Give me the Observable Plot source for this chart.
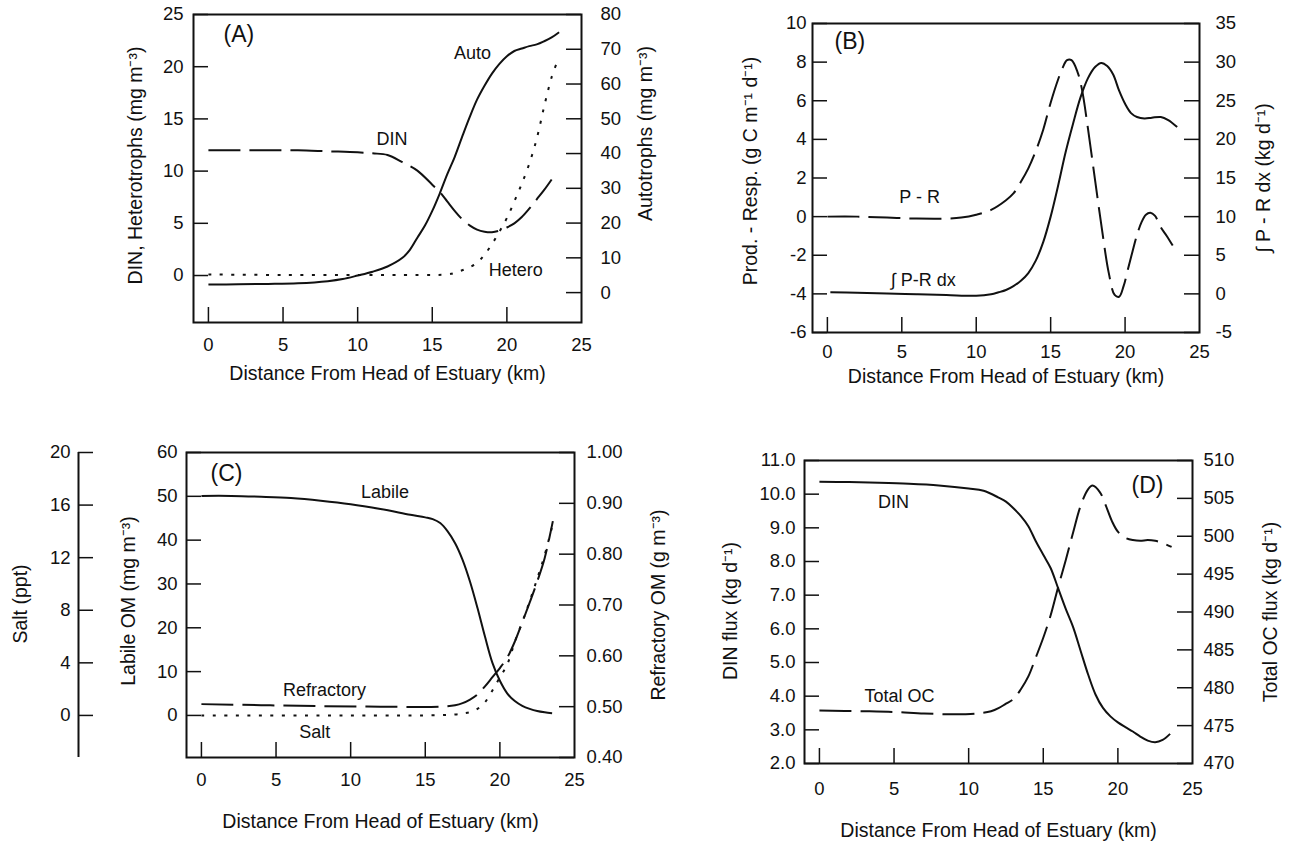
<!DOCTYPE html>
<html><head><meta charset="utf-8">
<script src="https://cdn.jsdelivr.net/npm/d3@7"></script>
<script src="https://cdn.jsdelivr.net/npm/@observablehq/plot@0.6"></script>
<style>
html,body{margin:0;padding:0;background:#fff;}
#chart{position:relative;width:1291px;height:843px;overflow:hidden;}
#chart svg{position:absolute;overflow:visible;}
</style></head><body><div id="chart"></div>
<script>
// ---------- shared x axis ----------
const X_DOMAIN = [-1, 25];
const X_LABELS = [0, 5, 10, 15, 20, 25];
const X_TICKS = [0, 5, 10, 15, 20];
const X_TITLE = "Distance From Head of Estuary (km)";

// ---------- Panel A ----------
const aDinKm = [0, 2, 4, 6, 8, 10, 11, 12, 13, 14, 15, 15.5, 16, 16.5, 17, 17.5, 18, 18.5, 19, 19.5, 20, 20.5, 21, 21.5, 22, 22.5, 23];
const aDin   = [12.0, 12.0, 12.0, 12.0, 11.9, 11.8, 11.7, 11.55, 10.85, 10.05, 8.7, 8.0, 7.1, 6.2, 5.4, 4.8, 4.4, 4.2, 4.15, 4.3, 4.6, 5.0, 5.6, 6.4, 7.3, 8.2, 9.2];
const aHetKm = [0, 5, 10, 14, 16, 16.5, 17, 17.5, 18, 18.5, 19, 19.5, 20, 20.5, 21, 21.5, 22, 22.5, 23, 23.3];
const aHet   = [0.1, 0.05, 0.05, 0.05, 0.1, 0.25, 0.5, 0.8, 1.2, 2.0, 3.0, 4.2, 5.5, 7.1, 8.8, 10.7, 13.1, 16.2, 19.0, 20.2];
const aAutoKm = [0, 2, 4, 6, 8, 9, 10, 11, 12, 13, 13.5, 14, 14.5, 15, 15.5, 16, 16.5, 17, 17.5, 18, 18.5, 19, 19.5, 20, 20.5, 21, 21.5, 22, 22.5, 23, 23.5];
const aAuto   = [2.3, 2.4, 2.5, 2.7, 3.3, 3.9, 4.9, 6.0, 7.5, 10.0, 12.3, 15.8, 19.2, 23.5, 28.5, 34.0, 39.0, 44.8, 50.4, 55.5, 59.5, 63.0, 65.8, 68.0, 69.5, 70.2, 70.9, 71.4, 72.3, 73.4, 74.9];
const aLeftTicks = [0, 5, 10, 15, 20, 25];
const aRightTicks = [0, 10, 20, 30, 40, 50, 60, 70, 80];
const aNotes = [{x: 17.7, y: 21.3, t: "Auto"}, {x: 12.3, y: 13.1, t: "DIN"}, {x: 20.6, y: 0.5, t: "Hetero"}];

// ---------- Panel B ----------
const bPrKm = [0, 2, 4, 6, 8, 9, 10, 11, 12, 12.5, 13, 13.5, 14, 14.5, 15, 15.5, 15.8, 16.1, 16.4, 16.8, 17.1, 17.5, 18, 18.5, 18.9, 19.3, 19.6, 19.9, 20.2, 20.5, 20.8, 21.1, 21.4, 21.7, 22, 22.4, 22.8, 23.2];
const bPr   = [0, 0, -0.05, -0.1, -0.1, -0.05, 0.1, 0.35, 0.85, 1.2, 1.8, 2.5, 3.4, 4.5, 5.9, 7.1, 7.7, 8.1, 8.1, 7.5, 6.6, 4.6, 1.8, -0.95, -2.9, -4.05, -4.15, -3.6, -2.7, -1.8, -0.95, -0.3, 0.1, 0.2, 0.05, -0.55, -1.0, -1.5];
const bIntKm = [0.2, 2, 4, 6, 8, 10, 11, 11.5, 12, 12.5, 13, 13.5, 14, 14.5, 15, 15.5, 16, 16.5, 17, 17.5, 18, 18.4, 18.8, 19.2, 19.6, 20, 20.4, 20.8, 21.3, 21.8, 22.4, 22.9, 23.5];
const bInt   = [0.2, 0.15, 0.05, -0.05, -0.15, -0.25, -0.05, 0.2, 0.5, 1.0, 1.7, 2.7, 4.3, 6.7, 10.0, 14.0, 18.3, 22.0, 25.4, 27.9, 29.4, 29.9, 29.5, 28.4, 26.3, 24.6, 23.4, 22.9, 22.7, 22.8, 22.9, 22.5, 21.6];
const bLeftTicks = [-6, -4, -2, 0, 2, 4, 6, 8, 10];
const bRightTicks = [-5, 0, 5, 10, 15, 20, 25, 30, 35];
const bNotes = [{x: 6.2, y: 1.0, t: "P - R"}, {x: 6.45, y: -3.3, t: "\u222B P-R dx"}];

// ---------- Panel C ----------
const cLabKm = [0, 2, 4, 6, 8, 10, 12, 14, 15, 15.5, 16, 16.5, 17, 17.5, 18, 18.5, 19, 19.5, 20, 20.5, 21, 21.5, 22, 22.5, 23, 23.5];
const cLab   = [50.1, 50.1, 49.9, 49.6, 49.0, 48.2, 47.1, 45.8, 45.2, 44.8, 43.9, 42.0, 39.3, 35.5, 30.5, 24.5, 18.0, 12.0, 7.9, 5.0, 3.3, 2.2, 1.5, 1.0, 0.7, 0.5];
const cRefKm = [0, 4, 8, 12, 16, 17, 17.5, 18, 18.5, 19, 19.5, 20, 20.5, 21, 21.5, 22, 22.5, 23, 23.55];
const cRef   = [0.505, 0.503, 0.501, 0.50, 0.50, 0.503, 0.507, 0.514, 0.524, 0.540, 0.558, 0.576, 0.597, 0.628, 0.666, 0.705, 0.746, 0.792, 0.865];
const cSaltKm = [0, 10, 16, 17, 17.5, 18, 18.5, 19, 19.5, 20, 20.5, 21, 21.5, 22, 22.5, 23, 23.6];
const cSalt   = [0, 0, 0.02, 0.08, 0.15, 0.25, 0.5, 1.0, 1.9, 2.9, 3.9, 5.6, 7.1, 8.7, 10.4, 12.2, 14.8];
const cLeftTicks = [0, 10, 20, 30, 40, 50, 60];
const cRightTicks = [0.4, 0.5, 0.6, 0.7, 0.8, 0.9, 1.0];
const cSaltTicks = [0, 4, 8, 12, 16, 20];
const cNotes = [{x: 12.3, y: 50.9, t: "Labile"}, {x: 8.25, y: 5.7, t: "Refractory"}, {x: 7.6, y: -3.8, t: "Salt"}];

// ---------- Panel D ----------
const dDinKm = [0, 2, 4, 6, 8, 10, 11, 12, 12.5, 13, 13.5, 14, 14.5, 15, 15.5, 16, 16.5, 17, 17.5, 18, 18.5, 19, 19.5, 20, 20.5, 21, 21.5, 22, 22.5, 23, 23.5];
const dDin   = [10.37, 10.36, 10.34, 10.31, 10.26, 10.17, 10.1, 9.9, 9.78, 9.58, 9.35, 9.05, 8.6, 8.2, 7.8, 7.2, 6.6, 6.05, 5.35, 4.65, 4.05, 3.65, 3.4, 3.22, 3.08, 2.95, 2.8, 2.68, 2.63, 2.7, 2.88];
const dOcKm = [0, 3, 5, 7, 9, 10.5, 11.5, 12, 12.5, 13, 13.5, 14, 14.5, 15, 15.5, 16, 16.5, 17, 17.5, 18, 18.3, 18.8, 19.2, 19.6, 20, 20.5, 21, 21.5, 22, 22.5, 23, 23.6];
const dOc   = [477.0, 476.9, 476.8, 476.6, 476.5, 476.6, 476.9, 477.3, 477.9, 478.5, 479.8, 481.5, 484.0, 486.6, 489.6, 493.3, 496.8, 500.5, 504.0, 506.2, 506.7, 505.8, 504.0, 502.0, 500.6, 499.8, 499.5, 499.4, 499.5, 499.4, 499.1, 498.6];
const dLeftTicks = [2, 3, 4, 5, 6, 7, 8, 9, 10, 11];
const dRightTicks = [470, 475, 480, 485, 490, 495, 500, 505, 510];
const dNotes = [{x: 4.97, y: 9.76, t: "DIN"}, {x: 5.37, y: 4.0, t: "Total OC"}];

// ---------- drawing helpers ----------
const FONT = '"Liberation Sans", Arial, Helvetica, sans-serif';
const INK = "#111";
const TICK_FS = 18.5, TITLE_FS = 19.5, NOTE_FS = 18, LETTER_FS = 23;
const TICK_LEN = 15;
const DASH = "32,9", DOT = "3,8.5";
const pts = (xs, ys) => xs.map((x, i) => ({x, y: ys[i]}));
const intFmt = d => String(d);

// each layer: marks is a function of a context giving tick lengths in data units
function layer(box, yDomain, makeMarks) {
  const ctx = {
    box, yDomain,
    xLen: TICK_LEN * (X_DOMAIN[1] - X_DOMAIN[0]) / (box.fx1 - box.fx0),
    yLen: TICK_LEN * (yDomain[1] - yDomain[0]) / (box.fy1 - box.fy0)
  };
  const svg = Plot.plot({
    width: box.w, height: box.h,
    marginLeft: box.fx0 - box.left, marginRight: box.left + box.w - box.fx1,
    marginTop: box.fy0 - box.top, marginBottom: box.top + box.h - box.fy1,
    x: {domain: X_DOMAIN, axis: null},
    y: {domain: yDomain, axis: null},
    style: {fontFamily: FONT, fontSize: TICK_FS + "px", color: INK, background: "transparent", overflow: "visible"},
    marks: makeMarks(ctx)
  });
  svg.style.left = box.left + "px";
  svg.style.top = box.top + "px";
  document.getElementById("chart").appendChild(svg);
}
function xAxis(ctx, pad, titleDy) {
  const y0 = ctx.yDomain[0];
  return [
    Plot.ruleX(X_TICKS, {x: d => d, y1: y0, y2: y0 + ctx.yLen, stroke: INK, strokeWidth: 1.5}),
    Plot.axisX(X_LABELS, {anchor: "bottom", tickSize: 0, tickPadding: pad, label: null, tickFormat: intFmt, fontSize: TICK_FS}),
    Plot.text([X_TITLE], {text: d => d, frameAnchor: "bottom", dy: titleDy, textAnchor: "middle", lineAnchor: "middle", fontSize: TITLE_FS, fill: INK})
  ];
}
function yAxis(ctx, ticks, anchor, pad, fmt, shift = 0) {
  const x1 = anchor === "left" ? X_DOMAIN[0] : X_DOMAIN[1] - ctx.xLen;
  const x2 = anchor === "left" ? X_DOMAIN[0] + ctx.xLen : X_DOMAIN[1];
  return [
    Plot.ruleY(ticks, {y: d => d, x1, x2, dx: shift, stroke: INK, strokeWidth: 1.5}),
    Plot.axisY(ticks, {anchor, tickSize: 0, dx: shift, tickPadding: pad, label: null, tickFormat: fmt, fontSize: TICK_FS})
  ];
}
function yTitle(t, anchor, dx, dy) {
  return Plot.text([t], {text: d => d, frameAnchor: anchor, dx, dy, rotate: -90, textAnchor: "middle", lineAnchor: "middle", fontSize: TITLE_FS, fill: INK});
}
function notes(arr) {
  return Plot.text(arr, {x: "x", y: "y", text: "t", textAnchor: "middle", lineAnchor: "middle", fontSize: NOTE_FS, fill: INK});
}
function letter(t, anchor, dx, dy, textAnchor) {
  return Plot.text([t], {text: d => d, frameAnchor: anchor, dx, dy, textAnchor, lineAnchor: "middle", fontSize: LETTER_FS, fill: INK});
}
function line(data, dash) {
  return Plot.line(data, {x: "x", y: "y", curve: "catmull-rom", stroke: INK, strokeWidth: 2, strokeDasharray: dash, strokeLinecap: "butt"});
}

// ---------- Panel A ----------
const boxA = {left: 0, top: 0, w: 680, h: 400, fx0: 193, fx1: 581, fy0: 14, fy1: 322};
layer(boxA, [-4.5, 25], ctx => [
  Plot.frame({stroke: INK, strokeWidth: 2}),
  ...xAxis(ctx, 15, 51),
  ...yAxis(ctx, aLeftTicks, "left", 10, intFmt),
  yTitle("DIN, Heterotrophs (mg m\u207B\u00B3)", "left", -58, -3),
  line(pts(aDinKm, aDin), DASH),
  line(pts(aHetKm, aHet), DOT),
  notes(aNotes),
  letter("(A)", "top-left", 30, 20, "start")
]);
layer(boxA, [-8.6, 80], ctx => [
  ...yAxis(ctx, aRightTicks, "right", 19, intFmt),
  yTitle("Autotrophs (mg m\u207B\u00B3)", "right", 64, -35),
  line(pts(aAutoKm, aAuto), null)
]);

// ---------- Panel B ----------
const boxB = {left: 700, top: 0, w: 591, h: 400, fx0: 812, fx1: 1199, fy0: 23, fy1: 332};
layer(boxB, [-6, 10], ctx => [
  Plot.frame({stroke: INK, strokeWidth: 2}),
  ...xAxis(ctx, 12, 44),
  ...yAxis(ctx, bLeftTicks, "left", 6, intFmt),
  yTitle("Prod. - Resp. (g C m\u207B\u00B9 d\u207B\u00B9)", "left", -62, -7),
  line(pts(bPrKm, bPr), DASH),
  notes(bNotes),
  letter("(B)", "top-left", 22, 18, "start")
]);
layer(boxB, [-5, 35], ctx => [
  ...yAxis(ctx, bRightTicks, "right", 16, intFmt),
  yTitle("\u222B P - R dx (kg d\u207B\u00B9)", "right", 64, 0),
  line(pts(bIntKm, bInt), null)
]);

// ---------- Panel C ----------
const boxC = {left: 0, top: 420, w: 680, h: 423, fx0: 186, fx1: 574, fy0: 452, fy1: 757};
layer(boxC, [-9.6, 60], ctx => [
  Plot.frame({stroke: INK, strokeWidth: 2}),
  ...xAxis(ctx, 15, 64),
  ...yAxis(ctx, cLeftTicks, "left", 9, intFmt),
  yTitle("Labile OM (mg m\u207B\u00B3)", "left", -58, -4),
  line(pts(cLabKm, cLab), null),
  notes(cNotes),
  letter("(C)", "top-left", 24, 21, "start")
]);
layer(boxC, [0.4, 1.0], ctx => [
  ...yAxis(ctx, cRightTicks, "right", 12, d3.format(".2f")),
  yTitle("Refractory OM (g m\u207B\u00B3)", "right", 84, 0),
  line(pts(cRefKm, cRef), DASH)
]);
layer(boxC, [-3.2, 20], ctx => [
  Plot.ruleX([X_DOMAIN[0]], {dx: -108, stroke: INK, strokeWidth: 2}),
  ...yAxis(ctx, cSaltTicks, "left", 8, intFmt, -108),
  yTitle("Salt (ppt)", "left", -166, -1),
  line(pts(cSaltKm, cSalt), DOT)
]);

// ---------- Panel D ----------
const boxD = {left: 700, top: 420, w: 591, h: 423, fx0: 804, fx1: 1192, fy0: 460, fy1: 763};
layer(boxD, [2, 11], ctx => [
  Plot.frame({stroke: INK, strokeWidth: 2}),
  ...xAxis(ctx, 18, 67),
  ...yAxis(ctx, dLeftTicks, "left", 9, d3.format(".1f")),
  yTitle("DIN flux (kg d\u207B\u00B9)", "left", -74, -1),
  line(pts(dDinKm, dDin), null),
  notes(dNotes),
  letter("(D)", "top-right", -29, 25, "end")
]);
layer(boxD, [470, 510], ctx => [
  ...yAxis(ctx, dRightTicks, "right", 11, intFmt),
  yTitle("Total OC flux (kg d\u207B\u00B9)", "right", 78, 0),
  line(pts(dOcKm, dOc), DASH)
]);
</script>
</body></html>
